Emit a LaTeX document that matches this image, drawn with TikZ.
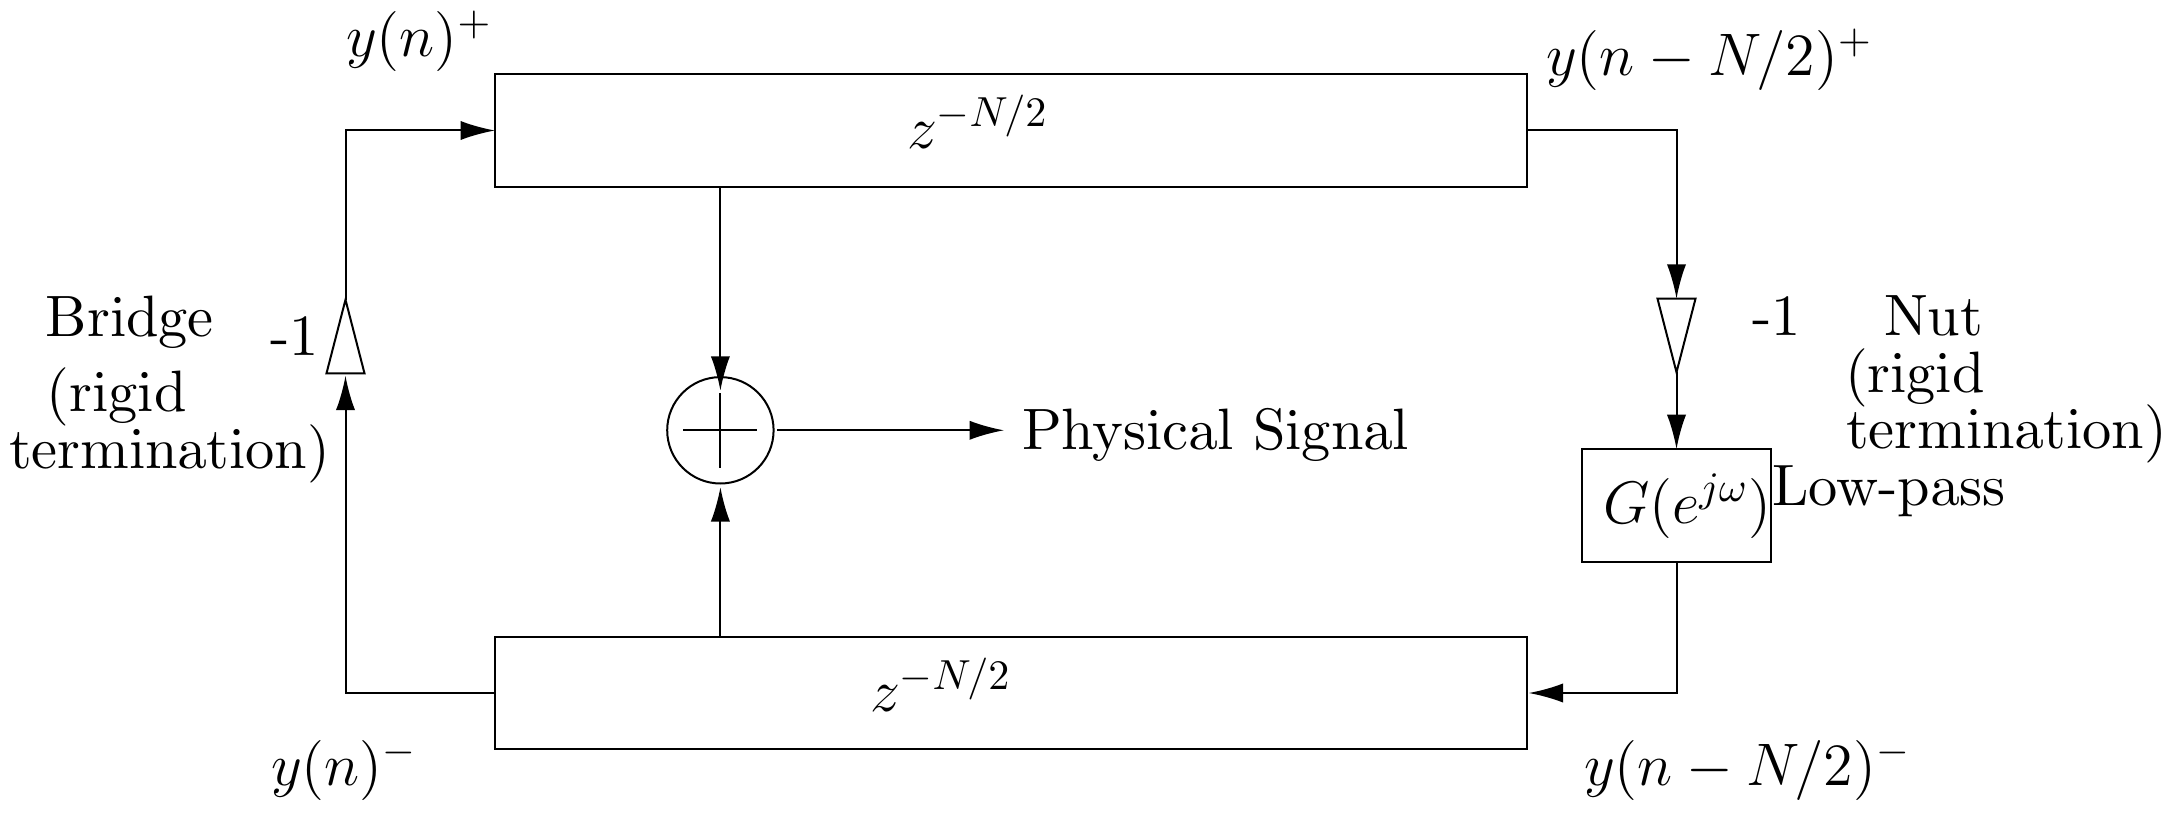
\RequirePackage{fix-cm}
\documentclass[tikz,border=0pt]{standalone}
\usetikzlibrary{arrows.meta,shapes.geometric}
\font\cmtext=cmr10 at 14.6pt
\tikzset{
  blockbox/.style={draw,rectangle,line width=0.5pt,inner sep=0pt,outer sep=0pt},
  gaintri/.style={draw,isosceles triangle,isosceles triangle stretches=true,line width=0.5pt,inner sep=0pt,outer sep=0pt,minimum width=9.5pt,minimum height=18.4pt},
  sumnode/.style={draw,circle,line width=0.5pt,inner sep=0pt,outer sep=0pt,minimum size=26.6pt},
  conn/.style={line width=0.5pt},
  arr/.style={line width=0.5pt,-{Latex[length=8.6pt,width=4.8pt]}},
  lbl/.style={anchor=base west,inner sep=0pt,outer sep=0pt,font=\fontsize{15}{18}\selectfont},
  txtlbl/.style={anchor=base west,inner sep=0pt,outer sep=0pt,font=\cmtext}
}
\begin{document}
\begin{tikzpicture}[x=0.25pt,y=-0.25pt]
\useasboundingbox (0,0) rectangle (2175,813);
% blocks
\node[blockbox,minimum width=258pt,minimum height=28.1pt] (top) at (1011,130.5) {};
\node[blockbox,minimum width=258pt,minimum height=28.1pt] (bot) at (1011,693) {};
\node[blockbox,minimum width=47.1pt,minimum height=28.1pt] (G) at (1676.5,505.3) {};
\node[sumnode] (sum) at (720.4,430.3) {};
\node[gaintri,shape border rotate=90,anchor=apex] (triL) at (345.5,299.7) {};
\node[gaintri,shape border rotate=-90,anchor=apex] (triR) at (1676.5,372.3) {};
\coordinate (cTL) at (triL.apex |- top.west);
\coordinate (cBL) at (triL.apex |- bot.west);
\coordinate (cTR) at (triR.apex |- top.east);
\coordinate (cBR) at (G.south |- bot.east);
\coordinate (out) at (1004,430.3);
% connectors
\draw[arr] (triL.apex) -- (cTL) -- (top.west);
\draw[arr,shorten >=0.6pt] (bot.west) -- (cBL) -- (triL.lower side);
\draw[arr] (top.east) -- (cTR) -- (triR.lower side);
\draw[arr] (triR.apex) -- (G.north);
\draw[arr,shorten >=0.4pt] (G.south) -- (cBR) -- (bot.east);
\draw[arr,shorten >=-3.4pt] (sum.north |- top.south) -- (sum.north);
\draw[arr,shorten >=0.9pt] (sum.south |- bot.north) -- (sum.south);
\draw[arr,shorten <=0.9pt] (sum.east) -- (out);
% plus sign
\draw[conn] ([xshift=-9.25pt]sum.center) -- ([xshift=9.25pt]sum.center);
\draw[conn] ([yshift=-9.4pt]sum.center) -- ([yshift=9.4pt]sum.center);
% labels
\node[lbl] (l1) at (346,57) {$y(n)^+$};
\node[lbl] (l2) at (1546,75.2) {$y(n-N/2)^+$};
\node[lbl] (l3) at (271,785.5) {$y(n)^-$};
\node[lbl] (l4) at (1584,785.5) {$y(n-N/2)^-$};
\node[lbl] (l5) at (907,148.7) {$z^{-N/2}$};
\node[lbl] (l6) at (870,711) {$z^{-N/2}$};
\node[lbl] (l17) at (1603,523.7) {$G(e^{j\omega})$};
\node[txtlbl] (l7) at (1022,449.6) {Physical Signal};
\node[txtlbl] (l8) at (46,337) {Bridge};
\node[txtlbl] (l9) at (47,411.2) {(rigid};
\node[txtlbl] (l10) at (9,468.2) {termination)};
\node[txtlbl] (l11) at (270,355.2) {-1};
\node[txtlbl] (l12) at (1752,336) {-1};
\node[txtlbl] (l13) at (1884,336) {Nut};
\node[txtlbl] (l14) at (1845,392.5) {(rigid};
\node[txtlbl] (l15) at (1846,448.5) {termination)};
\node[txtlbl] (l16) at (1772,505.5) {Low-pass};
\end{tikzpicture}
\end{document}
